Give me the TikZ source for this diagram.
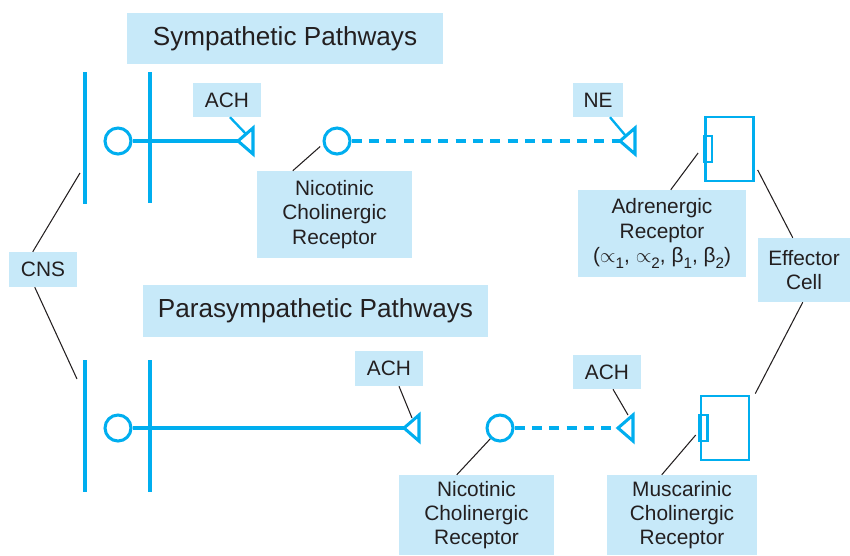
\documentclass[tikz,border=0pt]{standalone}
\usepackage{fontspec}
\setmainfont{Liberation Sans}
\usepackage{tikz}
\usetikzlibrary{calc}
\definecolor{nerve}{RGB}{0,174,239}
\definecolor{tagfill}{RGB}{199,233,249}
\definecolor{ink}{RGB}{35,31,32}
\newcommand{\lowsub}[1]{\raisebox{-0.55ex}{\fontsize{13}{13}\selectfont #1}}

\begin{document}
\begin{tikzpicture}[x=0.03cm,y=-0.03cm,
		nerve line/.style={draw=nerve,line width=2.6pt},
		lead/.style={draw=ink,line width=0.9pt},
		tag/.style={fill=tagfill,text=ink,inner sep=0pt,align=center,font=\fontsize{17.8}{20.8}\selectfont},
		heading/.style={tag,font=\fontsize{22.3}{26}\selectfont},
		cell/.style={circle,nerve line,inner sep=0pt,minimum size=0.78cm},
		receptor/.style={rectangle,nerve line,line width=2.2pt,inner sep=0pt,minimum width=1.44cm,minimum height=1.93cm}]
	\useasboundingbox (0,0) rectangle (850,555);
	% headings
	\node[heading,minimum width=9.48cm,minimum height=1.53cm] (symp) at (285,38.5) {Sympathetic Pathways};
	\node[heading,minimum width=10.35cm,minimum height=1.56cm] (para) at (315.5,311) {Parasympathetic Pathways};
	% neurons
	\draw[nerve line] (85,72) -- (85,204);
	\draw[nerve line] (150,72) -- (150,203);
	\draw[nerve line] (85,360) -- (85,492);
	\draw[nerve line] (150,360) -- (150,492);
	\node[cell] (c1) at (118,141) {};
	\node[cell] (c2) at (337,141) {};
	\node[cell] (c3) at (118,428) {};
	\node[cell] (c4) at (500,428) {};
	\coordinate (t1) at (238,141);
	\coordinate (t2) at (620,141);
	\coordinate (t3) at (404,428);
	\coordinate (t4) at (618,428);
	\foreach \t in {t1,t2,t3,t4}
		\draw[nerve line] (\t) -- ++(15,-13) -- ++(0,26) -- cycle;
	\draw[nerve line] (c1) -- (t1);
	\draw[nerve line] (c3) -- (t3);
	\draw[nerve line,dash pattern=on 0.3cm off 0.22cm] (c2) -- (t2);
	\draw[nerve line,dash pattern=on 0.3cm off 0.22cm] (c4) -- (t4);
	% effector receptors
	\node[receptor] (rec1) at (729.4,149) {};
	\node[receptor] (rec2) at (725,428) {};
	\draw[nerve line,line width=2.2pt] (rec1.west) ++(0,-13) rectangle ++(8,26);
	\draw[nerve line,line width=2.2pt] (rec2.west) ++(0,-13) rectangle ++(8,26);
	% labels
	\node[tag,minimum width=2.04cm,minimum height=1.02cm] (ach1) at (227,100) {ACH};
	\node[tag,minimum width=1.5cm,minimum height=1.02cm] (ne) at (598,100) {NE};
	\node[tag,minimum width=2.04cm,minimum height=1.05cm] (ach2) at (389,368.5) {ACH};
	\node[tag,minimum width=2.04cm,minimum height=1.02cm] (ach3) at (607,372) {ACH};
	\node[tag,minimum width=4.65cm,minimum height=2.61cm] (nic1) at (334.5,214.5) {Nicotinic\\Cholinergic\\Receptor};
	\node[tag,minimum width=4.65cm,minimum height=2.4cm] (nic2) at (476.5,515) {Nicotinic\\Cholinergic\\Receptor};
	\node[tag,minimum width=5.04cm,minimum height=2.61cm] (adr) at (662,233.5) {Adrenergic\\Receptor\\(\ensuremath{\propto}\lowsub{1}, \ensuremath{\propto}\lowsub{2}, β\lowsub{1}, β\lowsub{2})};
	\node[tag,minimum width=4.5cm,minimum height=2.4cm] (musc) at (682,515) {Muscarinic\\Cholinergic\\Receptor};
	\node[tag,minimum width=2.04cm,minimum height=1.05cm] (cns) at (43,269.5) {CNS};
	\node[tag,minimum width=2.76cm,minimum height=1.92cm] (eff) at (804,270) {Effector\\Cell};
	% leader lines
	\coordinate (symroot) at (80,173);
	\coordinate (pararoot) at (77,379);
	\draw[nerve line,line width=2pt] ($(ach1.south)+(3,0)$) -- ($(t1)+(8,-7)$);
	\draw[nerve line,line width=2pt] ($(ne.south)+(12,0)$) -- ($(t2)+(5,-6)$);
	\draw[lead] ($(ach2.south)+(10,0)$) -- ($(t3)+(8,-10)$);
	\draw[lead] ($(ach3.south)+(6,0)$) -- ($(t4)+(10,-13)$);
	\draw[lead] ($(nic1.north west)+(36,0)$) -- ($(c2.198)+(-3,1)$);
	\draw[lead] ($(nic2.north west)+(58,0)$) -- (c4.228);
	\draw[lead] ($(adr.north west)+(93,0)$) -- ($(rec1.west)+(-6,4)$);
	\draw[lead] ($(musc.north west)+(55,0)$) -- ($(rec2.west)+(-4,7)$);
	\draw[lead] ($(cns.north west)+(24,0)$) -- (symroot);
	\draw[lead] ($(cns.south west)+(26,0)$) -- (pararoot);
	\draw[lead] ($(rec1.east)+(3,21)$) -- ($(eff.north west)+(35,0)$);
	\draw[lead] ($(eff.south west)+(45,0)$) -- ($(rec2.north east)+(5,-1)$);
\end{tikzpicture}
\end{document}
